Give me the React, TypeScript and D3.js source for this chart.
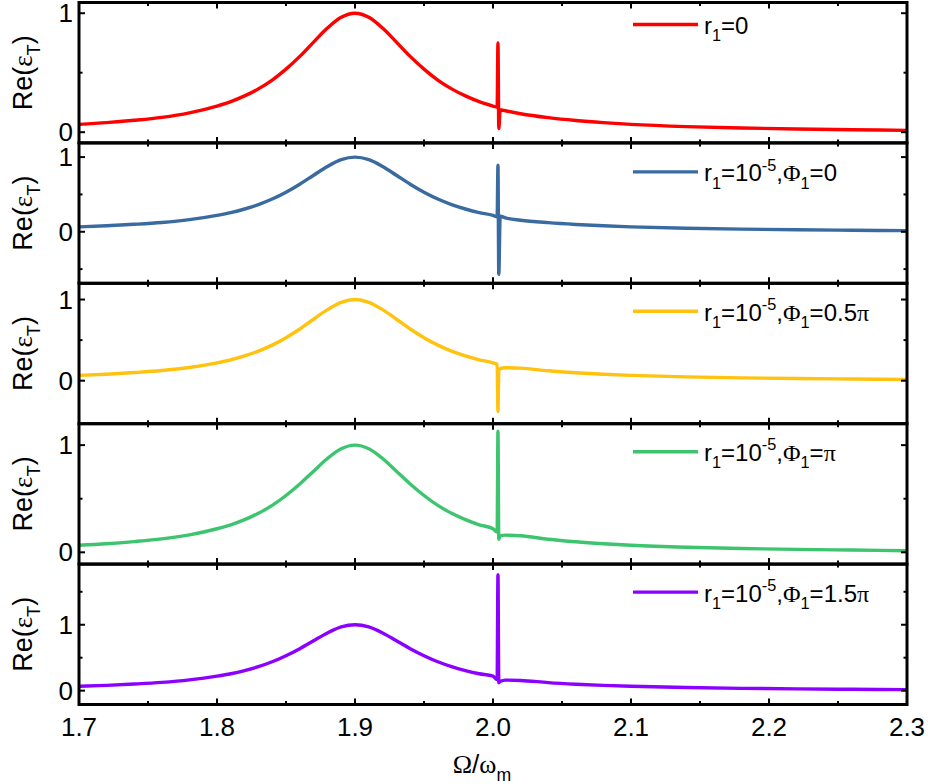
import React from 'react';
import * as d3 from 'd3';

// x axis (Ω/ωm)
const omegaTicks = [1.7, 1.8, 1.9, 2.0, 2.1, 2.2, 2.3];
const omegaMinor = [1.75, 1.85, 1.95, 2.05, 2.15, 2.25];

// broad resonance shared by all five curves
const baseOmega = [
  1.70, 1.72, 1.74, 1.76, 1.78, 1.80, 1.81, 1.82, 1.83, 1.84, 1.85, 1.86, 1.87, 1.88, 1.89,
  1.90, 1.91, 1.92, 1.93, 1.94, 1.95, 1.96, 1.97, 1.98, 1.99,
  2.02, 2.04, 2.06, 2.08, 2.10, 2.14, 2.18, 2.22, 2.26, 2.30,
];
const baseRe = [
  0.066, 0.08, 0.10, 0.125, 0.163, 0.22, 0.257, 0.305, 0.364, 0.438, 0.53, 0.637, 0.757, 0.875, 0.966,
  1.0, 0.966, 0.875, 0.757, 0.637, 0.53, 0.438, 0.364, 0.305, 0.257,
  0.155, 0.122, 0.098, 0.08, 0.066, 0.047, 0.035, 0.027, 0.021, 0.015,
];

// narrow feature near Ω = 2.004
const spikeOmega = [2.0, 2.003, 2.0036, 2.0042, 2.0052, 2.009];
const spikeR0 = [0.22, 0.21, 0.75, 0.03, 0.19, 0.18];
const spikePhi0 = [0.22, 0.2, 0.89, -0.57, 0.21, 0.185];
const spikePhiHalf = [0.22, 0.2, -0.38, 0.12, 0.15, 0.16];
const spikePhiPi = [0.22, 0.19, 1.13, 0.12, 0.155, 0.16];
const spikePhi15 = [0.22, 0.17, 1.76, 0.12, 0.14, 0.16];

const seriesSpikes = [spikeR0, spikePhi0, spikePhiHalf, spikePhiPi, spikePhi15];
const seriesLabels = [
  'r_{1}=0',
  'r_{1}=10^{-5},Φ_{1}=0',
  'r_{1}=10^{-5},Φ_{1}=0.5π',
  'r_{1}=10^{-5},Φ_{1}=π',
  'r_{1}=10^{-5},Φ_{1}=1.5π',
];
const seriesColors = ['#ff0000', '#3a6ba0', '#ffc20e', '#3cc46e', '#8b00ff'];

const yDomains = [[-0.09, 1.09], [-0.69, 1.19], [-0.53, 1.2], [-0.11, 1.2], [-0.21, 1.92]];
const yMajor = [[0, 1], [0, 1], [0, 1], [0, 1], [0, 1]];
const yMinor = [[0.5], [-0.5, 0.5], [0.5], [0.5], [0.5, 1.5]];

const W = 928;
const H = 784;
const left = 79;
const right = 907;
const top0 = 2.5;
const panelH = 140.4;
const legendOff = [22, 29, 28, 28, 28];
const FONT = '"Liberation Sans", Arial, sans-serif';

const isGreek = (s: string) => /[\u0370-\u03FF]/.test(s);

// turns "r_{1}=10^{-5}" into tspans with sub/superscripts
function rich(spec: string, fs: number) {
  const parts: { t: string; shift: number }[] = [];
  const re = /([_^])\{([^}]*)\}/g;
  let last = 0;
  let m: RegExpExecArray | null;
  while ((m = re.exec(spec))) {
    if (m.index > last) parts.push({ t: spec.slice(last, m.index), shift: 0 });
    parts.push({ t: m[2], shift: m[1] === '_' ? 0.3 : -0.45 });
    last = re.lastIndex;
  }
  if (last < spec.length) parts.push({ t: spec.slice(last), shift: 0 });
  let cur = 0;
  const out: React.ReactNode[] = [];
  parts.forEach((p, i) => {
    p.t.split(/([\u0370-\u03FF])/).filter(s => s).forEach((s, j) => {
      const target = p.shift * fs;
      const dy = target - cur;
      cur = target;
      out.push(
        <tspan
          key={`${i}-${j}`}
          dy={dy}
          fontSize={p.shift ? fs * 0.68 : fs}
          fontFamily={isGreek(s) ? '"Liberation Serif", serif' : undefined}
        >
          {s}
        </tspan>
      );
    });
  });
  return out;
}

export default function App() {
  const x = d3.scaleLinear().domain([1.7, 2.3]).range([left, right]);

  const panels = seriesSpikes.map((spike, i) => {
    const top = top0 + i * panelH;
    const bottom = top + panelH;
    const y = d3.scaleLinear().domain(yDomains[i]).range([bottom, top]);
    const pts: [number, number][] = [];
    baseOmega.forEach((o, k) => { if (o < 2.0 || o > 2.01) pts.push([o, baseRe[k]]); });
    spikeOmega.forEach((o, k) => pts.push([o, spike[k]]));
    pts.sort((a, b) => a[0] - b[0]);
    const line = d3.line<[number, number]>()
      .x(d => x(d[0]))
      .y(d => y(d[1]))
      .curve(d3.curveMonotoneX);
    const yMid = (top + bottom) / 2;
    const ly = top + legendOff[i];
    return (
      <g key={i}>
        <path d={line(pts) || ''} fill="none" stroke={seriesColors[i]} strokeWidth={3.4} strokeLinejoin="round" />
        {/* x ticks, top and bottom, inward */}
        {omegaTicks.concat(omegaMinor).map((t, k) => {
          const len = k < omegaTicks.length ? 6 : 3.5;
          return (
            <g key={`xt${k}`} stroke="#000" strokeWidth={2}>
              <line x1={x(t)} x2={x(t)} y1={bottom} y2={bottom - len} />
              <line x1={x(t)} x2={x(t)} y1={top} y2={top + len} />
            </g>
          );
        })}
        {yMajor[i].concat(yMinor[i]).map((t, k) => {
          const len = k < yMajor[i].length ? 6 : 3.5;
          return (
            <g key={`yt${k}`} stroke="#000" strokeWidth={2}>
              <line x1={left} x2={left + len} y1={y(t)} y2={y(t)} />
              <line x1={right} x2={right - len} y1={y(t)} y2={y(t)} />
            </g>
          );
        })}
        {yMajor[i].map(t => (
          <text key={`yl${t}`} x={73} y={y(t) + 9} textAnchor="end" fontSize={26}>{t}</text>
        ))}
        <rect x={left} y={top} width={right - left} height={panelH} fill="none" stroke="#000" strokeWidth={3} />
        <text transform={`translate(32,${yMid}) rotate(-90)`} textAnchor="middle" fontSize={27}>
          {rich('Re(ε^{}_{T})', 27)}
        </text>
        <line x1={633} x2={698} y1={ly} y2={ly} stroke={seriesColors[i]} strokeWidth={3.4} />
        <text x={704} y={ly + 9.5} fontSize={24}>{rich(seriesLabels[i], 24)}</text>
      </g>
    );
  });

  const bottom = top0 + 5 * panelH;

  return (
    <div style={{ position: 'absolute', left: 0, top: 0 }}>
      <svg width={W} height={H} fontFamily={FONT} style={{ display: 'block', background: '#fff' }}>
        {panels}
        {omegaTicks.map(t => (
          <text key={t} x={x(t)} y={bottom + 31} textAnchor="middle" fontSize={26}>{t.toFixed(1)}</text>
        ))}
        <text x={482} y={773} textAnchor="middle" fontSize={26}>{rich('Ω/ω_{m}', 26)}</text>
      </svg>
    </div>
  );
}
